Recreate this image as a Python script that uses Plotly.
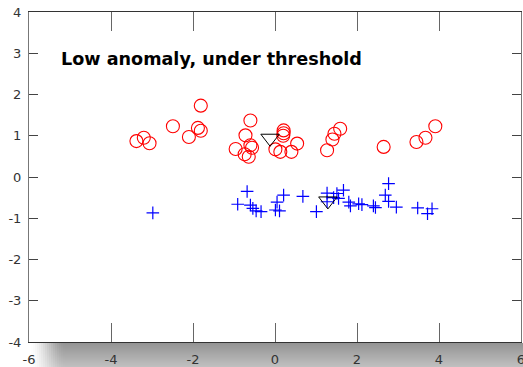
import plotly.graph_objects as go

# ---- data ----
red_x = [-3.38, -3.20, -3.06, -2.49, -2.10, -1.88, -1.81, -1.81, -0.60, -0.72,
         -0.96, -0.74, -0.64, -0.60, -0.56, 0.21, 0.21, 0.20, 0.01, 0.13,
         0.40, 0.54, 1.27, 1.40, 1.45, 1.59, 2.65, 3.45, 3.67, 3.91]
red_y = [0.87, 0.95, 0.82, 1.23, 0.97, 1.19, 1.12, 1.73, 1.37, 1.01,
         0.68, 0.55, 0.49, 0.77, 0.71, 1.13, 1.06, 1.00, 0.67, 0.61,
         0.61, 0.81, 0.65, 0.91, 1.05, 1.17, 0.73, 0.85, 0.95, 1.23]

blue_x = [-2.98, -0.68, -0.91, -0.60, -0.54, -0.46, -0.34, 0.01, 0.11, 0.05,
          0.21, 0.68, 1.01, 1.27, 1.27, 1.43, 1.51, 1.67, 1.55, 1.80,
          1.84, 2.04, 2.12, 2.40, 2.45, 2.77, 2.69, 2.77, 2.96, 3.48,
          3.72, 3.83]
blue_y = [-0.87, -0.35, -0.66, -0.68, -0.76, -0.82, -0.84, -0.80, -0.82, -0.61,
          -0.44, -0.47, -0.84, -0.39, -0.60, -0.50, -0.40, -0.32, -0.52, -0.61,
          -0.70, -0.65, -0.67, -0.70, -0.74, -0.16, -0.44, -0.59, -0.73, -0.75,
          -0.89, -0.77]

center_x = [-0.12, 1.29]
center_y = [0.94, -0.58]

x_ticks = [-6, -4, -2, 0, 2, 4, 6]
y_ticks = [-4, -3, -2, -1, 0, 1, 2, 3, 4]
title_text = "Low anomaly, under threshold"

# ---- figure ----
W, H = 523, 367
ML, MR, MT, MB = 29, 2, 12, 25
PW, PH = W - ML - MR, H - MT - MB

fig = go.Figure()
fig.add_trace(go.Scatter(x=red_x, y=red_y, mode="markers",
                         marker=dict(symbol="circle-open", size=13, color="#ff0000",
                                     line=dict(color="#ff0000", width=1.1)),
                         hoverinfo="skip"))
fig.add_trace(go.Scatter(x=blue_x, y=blue_y, mode="markers",
                         marker=dict(symbol="cross-thin-open", size=9, color="#0000ff",
                                     line=dict(color="#0000ff", width=1.2)),
                         hoverinfo="skip"))
fig.add_trace(go.Scatter(x=center_x, y=center_y, mode="markers",
                         marker=dict(symbol="triangle-down-open", size=16, color="#000000",
                                     line=dict(color="#000000", width=1)),
                         hoverinfo="skip"))

# shadow below the x axis (gradient built from small rectangles)
shapes = []
def px2x(px):
    return (px - ML) / PW
def py2y(py):
    return (H - MB - py) / PH

top, bottom = H - MB + 1, H
cols = list(range(ML, 68, 2)) + [W]
for r in range(top, bottom):
    t = (r - top) / (bottom - top - 1)
    dv = 0.42 - 0.17 * t
    for i in range(len(cols) - 1):
        cx = (cols[i] + cols[i + 1]) / 2 if cols[i + 1] < W else 70
        hx = min(1.0, max(0.0, (cx - ML) / (66 - ML)))
        hx = hx * hx * (3 - 2 * hx)
        d = dv * hx
        g = int(round(255 * (1 - d)))
        shapes.append(dict(type="rect", xref="paper", yref="paper",
                           x0=px2x(cols[i]), x1=px2x(cols[i + 1]),
                           y0=py2y(r + 1), y1=py2y(r),
                           fillcolor=f"rgb({g},{g},{g})", line=dict(width=0),
                           layer="below"))

fig.update_layout(
    width=W, height=H,
    margin=dict(l=ML, r=MR, t=MT, b=MB, autoexpand=False),
    paper_bgcolor="white", plot_bgcolor="white",
    showlegend=False,
    font=dict(family="DejaVu Sans", size=13, color="#333333"),
    shapes=shapes,
    annotations=[dict(x=-5.27, y=2.87, xref="x", yref="y", text=title_text,
                      showarrow=False, xanchor="left", yanchor="middle",
                      font=dict(family="DejaVu Sans", size=17.6, color="black",
                                weight="bold"))],
    xaxis=dict(range=[-6, 6], tickvals=x_ticks, ticktext=[str(v) for v in x_ticks],
               ticks="inside", ticklen=19, tickcolor="#666666", tickwidth=1,
               showline=True, linecolor="#333333", linewidth=1, mirror="ticks",
               showgrid=False, zeroline=False, ticklabelstandoff=5,
               ticklabeloverflow="allow", automargin=False),
    yaxis=dict(range=[-4, 4], tickvals=y_ticks, ticktext=[str(v) for v in y_ticks],
               ticks="inside", ticklen=9, tickcolor="#444444", tickwidth=1,
               showline=True, linecolor="#777777", linewidth=1, mirror="ticks",
               showgrid=False, zeroline=False, ticklabelstandoff=4,
               ticklabeloverflow="allow", automargin=False),
)

fig.write_html("out.html")
